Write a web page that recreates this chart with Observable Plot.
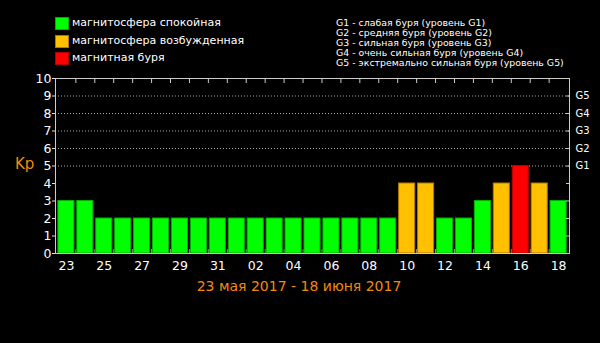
<!DOCTYPE html>
<html><head><meta charset="utf-8">
<script src="https://cdn.jsdelivr.net/npm/d3@7"></script>
<script src="https://cdn.jsdelivr.net/npm/@observablehq/plot@0.6"></script>
<style>
html,body{margin:0;padding:0;background:#000;}
#chart{position:relative;width:600px;height:343px;background:#000;overflow:hidden;font-family:"DejaVu Sans",sans-serif;color:#fff;}
#chart svg{position:absolute;left:0;top:0;}
.abs{position:absolute;white-space:nowrap;line-height:1;}
.sw{position:absolute;width:12px;height:11px;}
</style></head><body><div id="chart"></div>
<script>
// ---- data ----
const days = ["23","24","25","26","27","28","29","30","31","01","02","03","04","05","06","07","08","09","10","11","12","13","14","15","16","17","18"];
const kp   = [3,3,2,2,2,2,2,2,2,2,2,2,2,2,2,2,2,2,4,4,2,2,3,4,5,4,3];
const statusNames = ["магнитосфера спокойная","магнитосфера возбужденная","магнитная буря"];
const statusFill = ["#00ff00","#ffc000","#ff0000"];
const statusStroke = ["#00b000","#b07800","#b00000"];
const yTicks = [0,1,2,3,4,5,6,7,8,9,10];
const gLevels = [5,6,7,8,9];
const gLabels = ["G1","G2","G3","G4","G5"];
const gDescriptions = [
  "G1 - слабая буря (уровень G1)",
  "G2 - средняя буря (уровень G2)",
  "G3 - сильная буря (уровень G3)",
  "G4 - очень сильная буря (уровень G4)",
  "G5 - экстремально сильная буря (уровень G5)"
];
const xTickLabels = days.filter((d, i) => i % 2 === 0);
const yLabel = "Kp";
const caption = "23 мая 2017 - 18 июня 2017";

const statusOf = v => v >= 5 ? 2 : v >= 4 ? 1 : 0;
const data = days.map((d, i) => ({day: d, kp: kp[i], s: statusOf(kp[i])}));

// ---- layout ----
const W = 600, H = 343, mL = 55, mR = 31, mT = 78, mB = 90;
const xs = Plot.scale({x: {type: "band", domain: days, range: [mL, W - mR], padding: 0.15, round: false}});
const step = xs.step || ((W - mL - mR) / (days.length + 0.15));

const orange = "#f28a0c";

const plot = Plot.plot({
  width: W, height: H,
  marginTop: mT, marginBottom: mB, marginLeft: mL, marginRight: mR,
  style: {background: "transparent", color: "#fff", fontFamily: "DejaVu Sans", fontSize: "12.5px"},
  x: {domain: days, padding: 0.15, round: false, label: null, axis: null},
  y: {domain: [0, 10], label: null, axis: null},
  marks: [
    Plot.ruleY(gLevels, {stroke: "#aaaaaa", strokeDasharray: "1,2"}),
    Plot.axisX({anchor: "bottom", ticks: days.slice(1), tickSize: 4, dy: -4, dx: -step / 2, text: null, stroke: "#999"}),
    Plot.barY(data, {x: "day", y: "kp", fill: d => statusFill[d.s], stroke: d => statusStroke[d.s], strokeWidth: 1}),
    Plot.axisX({anchor: "top", ticks: days.slice(1), tickSize: 4, dy: 4, dx: -step / 2, text: null, stroke: "#ccc"}),
    Plot.axisX({anchor: "bottom", ticks: xTickLabels, tickSize: 0, tickPadding: 8, label: null, fill: "#fff", fontSize: 12.5}),
    Plot.axisY({anchor: "left", ticks: yTicks, tickSize: 3, tickPadding: 1, label: null, fill: "#fff", stroke: "#ddd", fontSize: 12.5}),
    Plot.axisY({anchor: "right", ticks: yTicks, tickSize: 4, dx: -4, text: null, stroke: "#ccc"}),
    Plot.axisY({anchor: "right", ticks: gLevels, tickSize: 0, tickPadding: 6, label: null, tickFormat: (d) => gLabels[gLevels.indexOf(d)], fill: "#fff", fontSize: 10}),
    Plot.frame({stroke: "#cccccc"})
  ]
});

const root = document.getElementById("chart");
root.appendChild(plot);

function addText(txt, css) {
  const el = document.createElement("div");
  el.className = "abs";
  el.textContent = txt;
  Object.assign(el.style, css);
  root.appendChild(el);
  return el;
}

// left legend
const legY = [17, 35, 52];
statusNames.forEach((n, i) => {
  const sw = document.createElement("div");
  sw.className = "sw";
  Object.assign(sw.style, {left: "55px", top: legY[i] + "px", background: statusFill[i], border: "1px solid " + statusStroke[i]});
  root.appendChild(sw);
  addText(n, {left: "72px", top: (legY[i] - 0.5) + "px", fontSize: "11px"});
});

// right legend
gDescriptions.forEach((t, i) => {
  addText(t, {left: "336px", top: (18 + i * 10) + "px", fontSize: "9.4px"});
});

// y label
addText(yLabel, {left: "15px", top: "157px", fontSize: "15px", color: orange});

// caption
addText(caption, {left: "299px", top: "279px", fontSize: "14px", color: orange, transform: "translateX(-50%)"});
</script>
</body></html>
